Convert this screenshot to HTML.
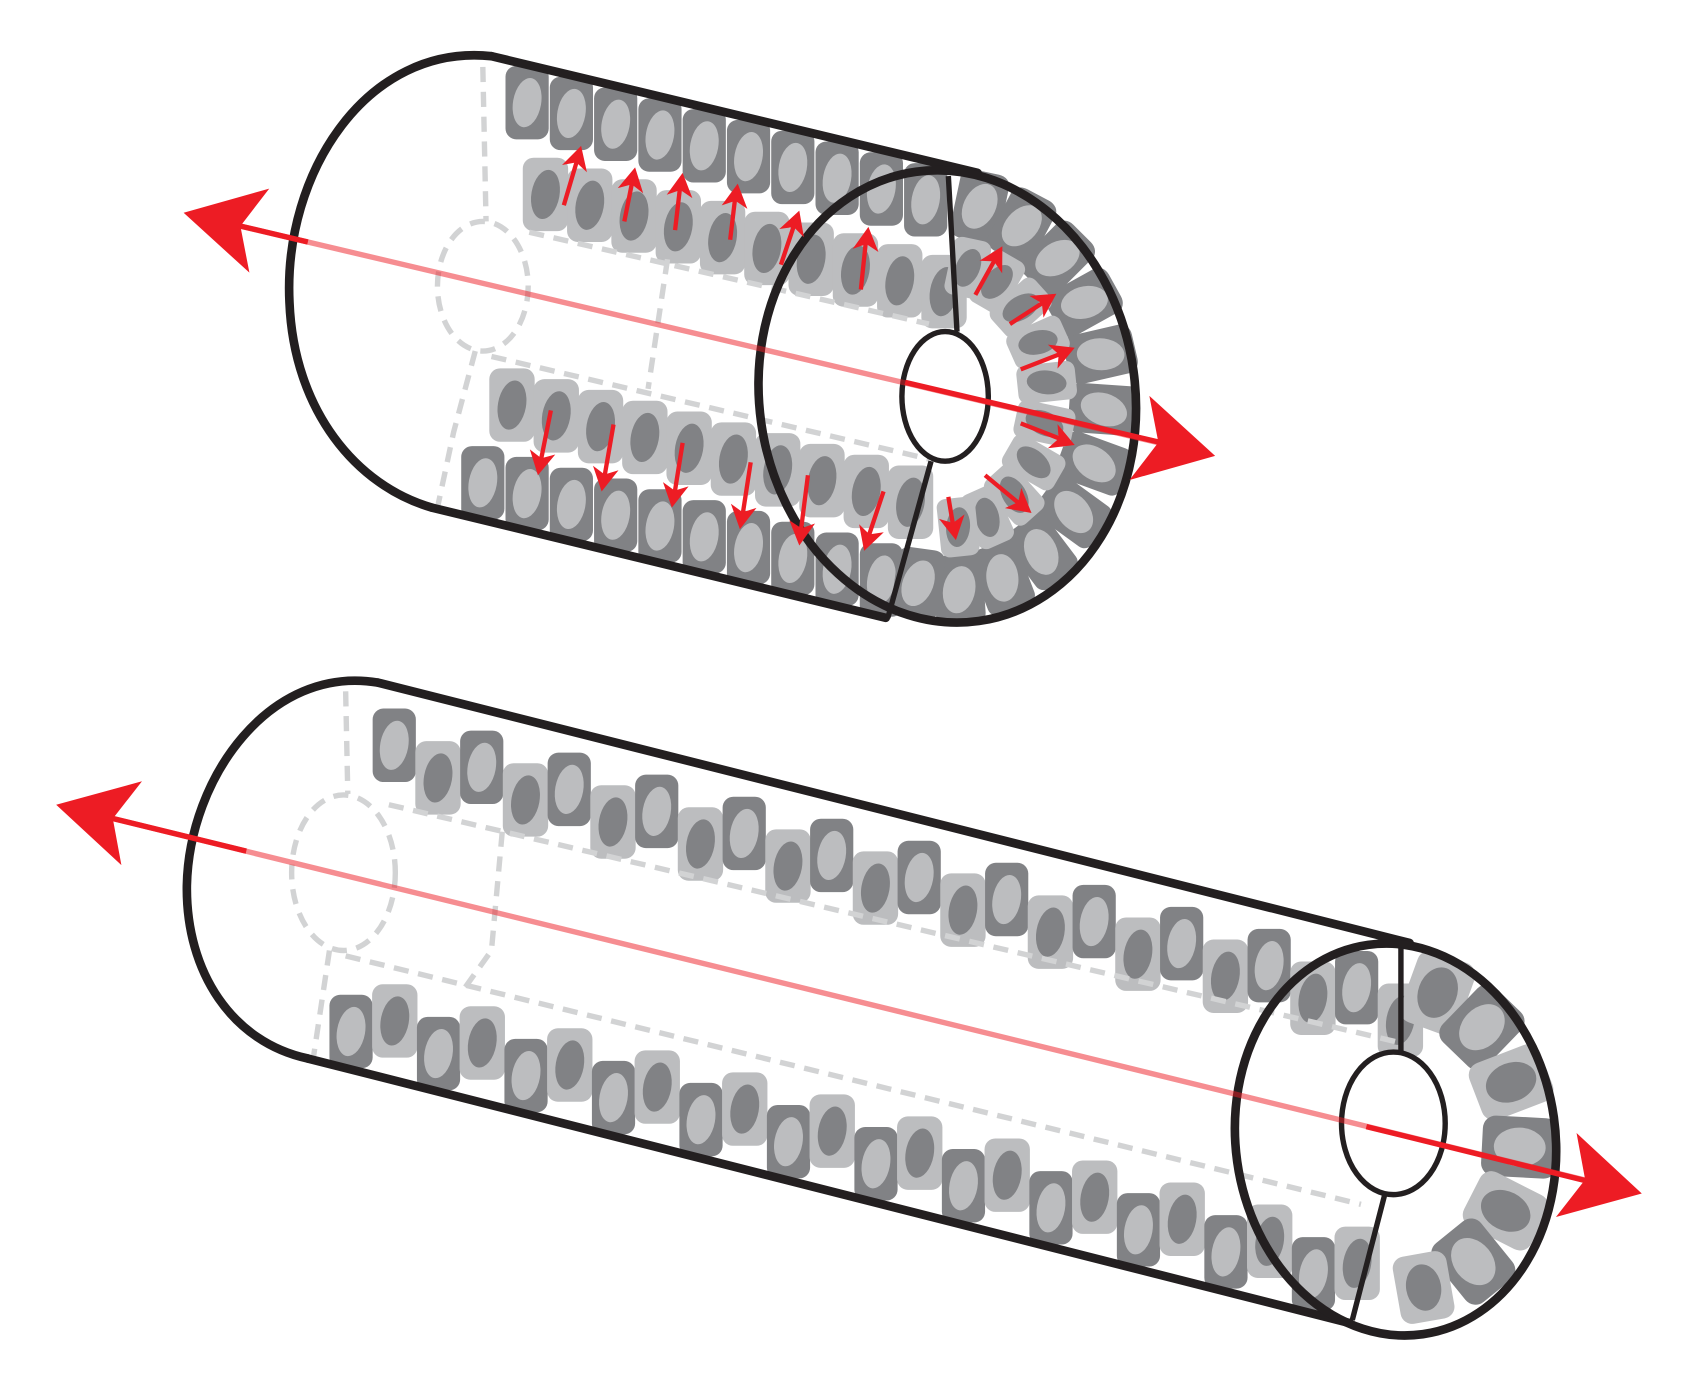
<!DOCTYPE html>
<html><head><meta charset="utf-8"><style>html,body{margin:0;padding:0;background:#fff}svg{display:block}</style></head>
<body>
<svg width="1685" height="1375" viewBox="0 0 1560 1273" xmlns="http://www.w3.org/2000/svg" xmlns:xlink="http://www.w3.org/1999/xlink">
<defs>
 <g id="cd"><rect x="-20" y="-34" width="40" height="68" rx="10" fill="#818285"/><ellipse cx="0" cy="0" rx="13" ry="23" fill="#bcbdbf" transform="rotate(10)"/></g>
 <g id="cl"><rect x="-21" y="-34" width="42" height="68" rx="10" fill="#bcbdbf"/><ellipse cx="0" cy="0" rx="13" ry="23" fill="#818285" transform="rotate(10)"/></g>
 <g id="cb"><rect x="-28" y="-35" width="56" height="70" rx="12" fill="#818285"/><ellipse cx="0" cy="0" rx="18" ry="24" fill="#bcbdbf"/></g>
 <g id="cbl"><rect x="-28" y="-35" width="56" height="70" rx="12" fill="#bcbdbf"/><ellipse cx="0" cy="0" rx="18" ry="24" fill="#818285"/></g>
 <g id="rowD"><use xlink:href="#cd" x="0" y="0"/><use xlink:href="#cd" x="41" y="10"/><use xlink:href="#cd" x="82" y="20"/><use xlink:href="#cd" x="123" y="30"/><use xlink:href="#cd" x="164" y="40"/><use xlink:href="#cd" x="205" y="50"/><use xlink:href="#cd" x="246" y="60"/><use xlink:href="#cd" x="287" y="70"/><use xlink:href="#cd" x="328" y="80"/><use xlink:href="#cd" x="369" y="90"/></g>
 <g id="rowL"><use xlink:href="#cl" x="0" y="0"/><use xlink:href="#cl" x="41" y="10"/><use xlink:href="#cl" x="82" y="20"/><use xlink:href="#cl" x="123" y="30"/><use xlink:href="#cl" x="164" y="40"/><use xlink:href="#cl" x="205" y="50"/><use xlink:href="#cl" x="246" y="60"/><use xlink:href="#cl" x="287" y="70"/><use xlink:href="#cl" x="328" y="80"/><use xlink:href="#cl" x="369" y="90"/></g>
 <g id="pB"><use xlink:href="#cd" x="0" y="-5"/><use xlink:href="#cl" x="40.5" y="25.2"/></g>
 <g id="pC"><use xlink:href="#cd" x="0" y="5"/><use xlink:href="#cl" x="40.5" y="-4.8"/></g>
 <g id="rB"><use xlink:href="#pB" x="0" y="0"/><use xlink:href="#pB" x="81" y="20.4"/><use xlink:href="#pB" x="162" y="40.8"/><use xlink:href="#pB" x="243" y="61.2"/><use xlink:href="#pB" x="324" y="81.6"/><use xlink:href="#pB" x="405" y="102"/><use xlink:href="#pB" x="486" y="122.4"/><use xlink:href="#pB" x="567" y="142.8"/><use xlink:href="#pB" x="648" y="163.2"/><use xlink:href="#pB" x="729" y="183.6"/><use xlink:href="#pB" x="810" y="204"/><use xlink:href="#pB" x="891" y="224.4"/></g>
 <g id="rC"><use xlink:href="#pC" x="0" y="0"/><use xlink:href="#pC" x="81" y="20.4"/><use xlink:href="#pC" x="162" y="40.8"/><use xlink:href="#pC" x="243" y="61.2"/><use xlink:href="#pC" x="324" y="81.6"/><use xlink:href="#pC" x="405" y="102"/><use xlink:href="#pC" x="486" y="122.4"/><use xlink:href="#pC" x="567" y="142.8"/><use xlink:href="#pC" x="648" y="163.2"/><use xlink:href="#pC" x="729" y="183.6"/><use xlink:href="#pC" x="810" y="204"/><use xlink:href="#pC" x="891" y="224.4"/></g>
 <polygon id="hd" points="0,0 -22,-12 -16,0 -22,12" fill="#ed1c24"/>
 <polygon id="HD" points="0,0 -72,-40 -54,0 -72,40" fill="#ed1c24"/>
</defs>

<use xlink:href="#rowD" x="488" y="95"/>
<use xlink:href="#rowL" x="505" y="180"/>
<use xlink:href="#rowL" x="474" y="375"/>
<use xlink:href="#rowD" x="447" y="447"/>
<g>
 <g transform="translate(907,191) rotate(12)"><use xlink:href="#cd" transform="scale(1.15,0.95)"/></g>
 <g transform="translate(946,209) rotate(28)"><use xlink:href="#cd" transform="scale(1.15,0.95)"/></g>
 <g transform="translate(979,239) rotate(45)"><use xlink:href="#cd" transform="scale(1.15,0.95)"/></g>
 <g transform="translate(1004,280) rotate(61)"><use xlink:href="#cd" transform="scale(1.15,0.95)"/></g>
 <g transform="translate(1019,328) rotate(77)"><use xlink:href="#cd" transform="scale(1.15,0.95)"/></g>
 <g transform="translate(1022,379) rotate(94)"><use xlink:href="#cd" transform="scale(1.15,0.95)"/></g>
 <g transform="translate(1013,429) rotate(110)"><use xlink:href="#cd" transform="scale(1.15,0.95)"/></g>
 <g transform="translate(994,474) rotate(126)"><use xlink:href="#cd" transform="scale(1.15,0.95)"/></g>
 <g transform="translate(964,511) rotate(143)"><use xlink:href="#cd" transform="scale(1.15,0.95)"/></g>
 <g transform="translate(928,535) rotate(159)"><use xlink:href="#cd" transform="scale(1.15,0.95)"/></g>
 <g transform="translate(888,546) rotate(176)"><use xlink:href="#cd" transform="scale(1.15,0.95)"/></g>
 <g transform="translate(850,540) rotate(188)"><use xlink:href="#cd" transform="scale(1.1,0.95)"/></g>
 <g transform="translate(896,248) rotate(12) scale(0.85,0.8)"><use xlink:href="#cl"/></g>
 <g transform="translate(923,261) rotate(30) scale(0.85,0.8)"><use xlink:href="#cl"/></g>
 <g transform="translate(945,285) rotate(48) scale(0.85,0.8)"><use xlink:href="#cl"/></g>
 <g transform="translate(961,317) rotate(66) scale(0.85,0.8)"><use xlink:href="#cl"/></g>
 <g transform="translate(969,354) rotate(84) scale(0.85,0.8)"><use xlink:href="#cl"/></g>
 <g transform="translate(967,392) rotate(102) scale(0.85,0.8)"><use xlink:href="#cl"/></g>
 <g transform="translate(957,428) rotate(120) scale(0.85,0.8)"><use xlink:href="#cl"/></g>
 <g transform="translate(939,458) rotate(138) scale(0.85,0.8)"><use xlink:href="#cl"/></g>
 <g transform="translate(914,479) rotate(156) scale(0.85,0.8)"><use xlink:href="#cl"/></g>
 <g transform="translate(887,488) rotate(174) scale(0.85,0.8)"><use xlink:href="#cl"/></g>
</g>

<use xlink:href="#rB" x="365" y="695"/>
<use xlink:href="#rC" x="325" y="950"/>
<g>
 <g transform="translate(1331,919) rotate(20)"><use xlink:href="#cbl"/></g>
 <g transform="translate(1372,951) rotate(44)"><use xlink:href="#cb"/></g>
 <g transform="translate(1399,1002) rotate(69)"><use xlink:href="#cbl"/></g>
 <g transform="translate(1407,1062) rotate(93)"><use xlink:href="#cb"/></g>
 <g transform="translate(1394,1121) rotate(117)"><use xlink:href="#cbl"/></g>
 <g transform="translate(1364,1168) rotate(141)"><use xlink:href="#cb"/></g>
 <g transform="translate(1318,1192) rotate(170)"><use xlink:href="#cbl" transform="scale(0.9)"/></g>
</g>

<g fill="none" stroke="#d2d3d4" stroke-width="5" stroke-dasharray="14 9">
 <ellipse cx="447" cy="265" rx="42" ry="60"/>
 <path d="M447,62 L450,205 M490,215 L860,300 M618,240 L600,360 M440,325 L420,400 L405,470 M455,330 L860,425"/>
 <ellipse cx="318" cy="808" rx="48" ry="72"/>
 <path d="M320,640 L322,735 M360,745 L1295,965 M465,770 L455,880 L430,915 M305,880 L290,980 M320,885 L1260,1115"/>
</g>
<g fill="none" stroke="#231f20" stroke-width="8" stroke-linecap="round">
 <path d="M455,52 L905,160"/>
 <path d="M400,470 L820,572"/>
 <path d="M455,52 C340,40 262,160 268,280 C272,380 330,450 400,470"/>
 <ellipse cx="877" cy="367" rx="174" ry="210" transform="rotate(-8 877 367)"/>
 <path d="M350,632 L1305,873"/>
 <path d="M285,980 L1250,1225"/>
 <path d="M350,632 C250,615 175,720 173,820 C172,900 215,965 285,980"/>
 <ellipse cx="1292" cy="1055" rx="148" ry="182" transform="rotate(-8 1292 1055)"/>
</g>
<g fill="#fff" stroke="#231f20" stroke-width="5">
 <ellipse cx="875" cy="367" rx="40" ry="60"/>
 <path d="M878,163 L886,307 M862,427 L822,572" fill="none"/>
 <ellipse cx="1290" cy="1040" rx="48" ry="66"/>
 <path d="M1297,877 L1297,975 M1282,1106 L1252,1222" fill="none"/>
</g>

<g stroke="#ed1c24" stroke-width="5">
 <line x1="200" y1="204" x2="1090" y2="414" stroke-opacity="0.5"/>
 <line x1="200" y1="204" x2="285" y2="224"/>
 <line x1="838" y1="354" x2="1080" y2="411"/>
 <line x1="85" y1="753" x2="1490" y2="1098" stroke-opacity="0.5"/>
 <line x1="85" y1="753" x2="228" y2="788"/>
 <line x1="1265" y1="1043" x2="1480" y2="1096"/>
</g>
<use xlink:href="#HD" transform="translate(1125,422) rotate(13.26)"/>
<use xlink:href="#HD" transform="translate(170,197) rotate(193.26)"/>
<use xlink:href="#HD" transform="translate(1520,1105) rotate(13.78)"/>
<use xlink:href="#HD" transform="translate(52,745) rotate(193.78)"/>

<g stroke="#ed1c24" stroke-width="4">
 <line x1="522" y1="190" x2="535" y2="146"/><line x1="578" y1="205" x2="586" y2="165"/><line x1="625" y1="213" x2="630" y2="170"/>
 <line x1="676" y1="222" x2="681" y2="180"/><line x1="723" y1="245" x2="736" y2="206"/><line x1="797" y1="268" x2="802" y2="220"/>
 <line x1="510" y1="380" x2="500" y2="430"/><line x1="568" y1="393" x2="559" y2="445"/><line x1="632" y1="410" x2="624" y2="460"/>
 <line x1="695" y1="428" x2="687" y2="480"/><line x1="748" y1="440" x2="741" y2="495"/><line x1="818" y1="455" x2="803" y2="500"/>
 <line x1="878" y1="460" x2="883" y2="490"/>
 <line x1="903" y1="273" x2="923" y2="237"/><line x1="935" y1="300" x2="969" y2="278"/><line x1="945" y1="342" x2="986" y2="326"/>
 <line x1="945" y1="392" x2="986" y2="408"/><line x1="912" y1="440" x2="947" y2="469"/>
</g>
<use xlink:href="#hd" transform="translate(538,135) rotate(-73.8)"/>
<use xlink:href="#hd" transform="translate(588,155) rotate(-78.7)"/>
<use xlink:href="#hd" transform="translate(632,160) rotate(-82.5)"/>
<use xlink:href="#hd" transform="translate(683,170) rotate(-82.3)"/>
<use xlink:href="#hd" transform="translate(740,195) rotate(-71.2)"/>
<use xlink:href="#hd" transform="translate(804,210) rotate(-83.1)"/>
<use xlink:href="#hd" transform="translate(498,440) rotate(101.3)"/>
<use xlink:href="#hd" transform="translate(557,455) rotate(100)"/>
<use xlink:href="#hd" transform="translate(622,470) rotate(99.5)"/>
<use xlink:href="#hd" transform="translate(685,490) rotate(99.2)"/>
<use xlink:href="#hd" transform="translate(740,505) rotate(97)"/>
<use xlink:href="#hd" transform="translate(800,510) rotate(108)"/>
<use xlink:href="#hd" transform="translate(885,500) rotate(80)"/>
<use xlink:href="#hd" transform="translate(928,228) rotate(-61)"/>
<use xlink:href="#hd" transform="translate(978,272) rotate(-33)"/>
<use xlink:href="#hd" transform="translate(995,322) rotate(-21.8)"/>
<use xlink:href="#hd" transform="translate(995,412) rotate(21.8)"/>
<use xlink:href="#hd" transform="translate(955,475) rotate(39.2)"/>
</svg>
</body></html>
